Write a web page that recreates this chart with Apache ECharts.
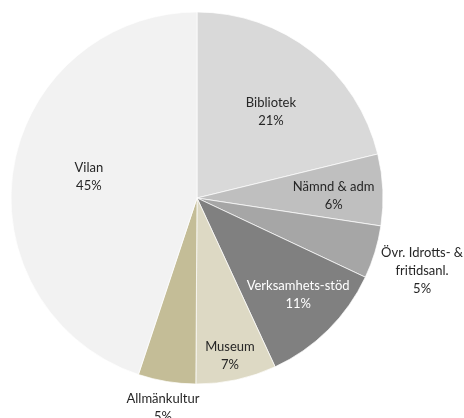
<!DOCTYPE html>
<html>
<head>
<meta charset="utf-8">
<script src="https://cdn.jsdelivr.net/npm/echarts@6/dist/echarts.min.js"></script>
<style>
  html, body { margin: 0; padding: 0; background: #fff; }
  #chart { width: 464px; height: 418px; }
</style>
</head>
<body>
<div id="chart"></div>
<script>
// categories, clockwise from 12 o'clock
const categories = ['Bibliotek', 'Nämnd & adm', 'Övr. Idrotts- &\nfritidsanl.', 'Verksamhets-stöd', 'Museum', 'Allmänkultur', 'Vilan']
// share of total (%)
const values = [21.2, 6.2, 4.6, 11.1, 7.0, 5.0, 44.9]
const colors = ['#D9D9D9', '#BFBFBF', '#A6A6A6', '#808080', '#DDD9C4', '#C4BD97', '#F2F2F2']
const labelColors = ['#262626', '#262626', '#262626', '#ffffff', '#262626', '#262626', '#262626']
// how far out each label sits, as a fraction of the radius
const labelDist = [0.61, 0.73, 1.26, 0.74, 0.87, 1.11, 0.60]
// small hand nudges (px) on top of the radial placement
const labelNudge = [[2, 5], [-2, 4], [-2, 4], [2, -3], [-2, -3], [0, 3], [5, -3]]

const R = 186
const total = values.reduce((a, b) => a + b, 0)
const midAngle = []
let acc = 0
values.forEach(v => {
  midAngle.push((acc + v / 2) / total * Math.PI * 2)
  acc += v
})

const chart = echarts.init(document.getElementById('chart'))

chart.setOption({
  animation: false,
  series: [
    {
      type: 'pie',
      center: [197, 198],
      radius: [0, R],
      startAngle: 90,
      clockwise: true,
      avoidLabelOverlap: false,
      itemStyle: {
        borderColor: '#ffffff',
        borderWidth: 0.7
      },
      label: {
        show: true,
        position: 'inside',
        fontFamily: 'Lato',
        fontSize: 13,
        lineHeight: 18,
        align: 'center',
        formatter: p => p.name + '\n' + Math.round(p.percent) + '%'
      },
      labelLine: { show: false },
      // push labels radially from the middle of the slice
      labelLayout: p => {
        const i = p.dataIndex
        const shift = (labelDist[i] - 0.5) * R
        return {
          dx: shift * Math.sin(midAngle[i]) + labelNudge[i][0],
          dy: -shift * Math.cos(midAngle[i]) + labelNudge[i][1]
        }
      },
      data: categories.map((name, i) => ({
        name: name,
        value: values[i],
        itemStyle: { color: colors[i] },
        label: { color: labelColors[i] }
      }))
    }
  ]
})
</script>
</body>
</html>
